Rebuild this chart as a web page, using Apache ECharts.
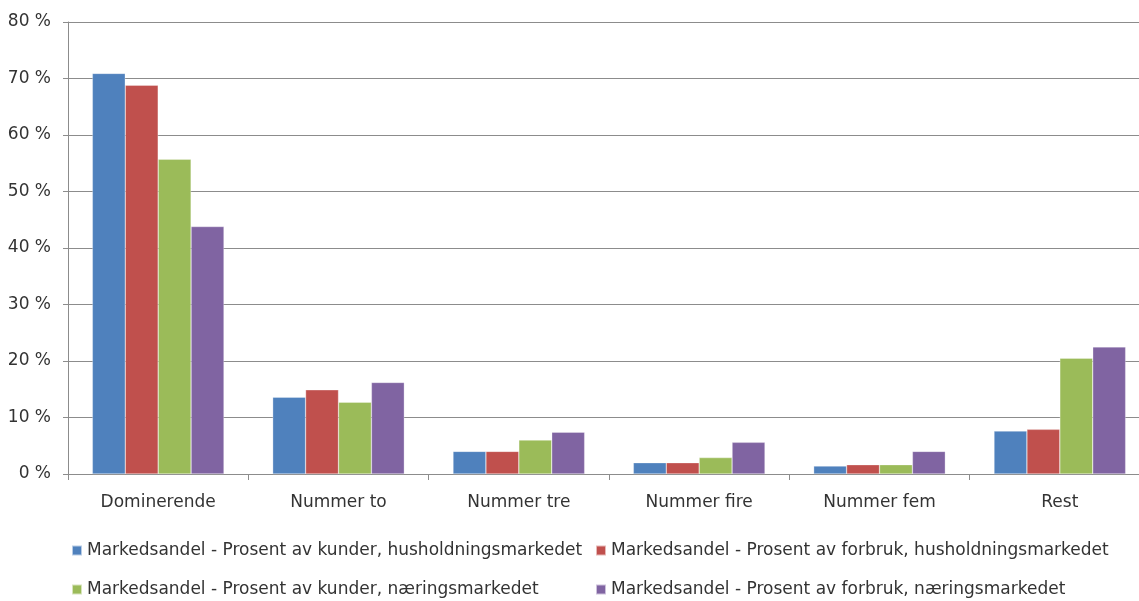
<!DOCTYPE html>
<html>
<head>
<meta charset="utf-8">
<script src="https://cdn.jsdelivr.net/npm/echarts@6/dist/echarts.min.js"></script>
<style>
  html, body { margin: 0; padding: 0; background: #fff; }
  #chart { width: 1139px; height: 601px; }
</style>
</head>
<body>
<div id="chart"></div>
<script>
const categories = ['Dominerende', 'Nummer to', 'Nummer tre', 'Nummer fire', 'Nummer fem', 'Rest']

const seriesNames = [
  'Markedsandel - Prosent av kunder, husholdningsmarkedet',
  'Markedsandel - Prosent av forbruk, husholdningsmarkedet',
  'Markedsandel - Prosent av kunder, næringsmarkedet',
  'Markedsandel - Prosent av forbruk, næringsmarkedet'
]

const kunderHush = [70.9, 13.6, 4.0, 2.0, 1.4, 7.6]
const forbrukHush = [68.8, 14.9, 4.0, 2.0, 1.65, 7.9]
const kunderNaering = [55.7, 12.7, 6.0, 2.9, 1.65, 20.5]
const forbrukNaering = [43.8, 16.2, 7.4, 5.6, 4.0, 22.5]

const colors = ['#4F81BD', '#C0504D', '#9BBB59', '#8064A2']
const font = 'DejaVu Sans'
const textColor = '#333'

const chart = echarts.init(document.getElementById('chart'))

const makeSeries = (name, data, color) => ({
  name: name,
  type: 'bar',
  data: data,
  barGap: '0%',
  barCategoryGap: '27%',
  itemStyle: { color: color, borderColor: 'rgba(255,255,255,0.6)', borderWidth: 0.5 }
})

const legendText = { fontFamily: font, fontSize: 17, color: textColor }

chart.setOption({
  backgroundColor: '#fff',
  animation: false,
  color: colors,
  grid: { left: 68, top: 22, width: 1082, bottom: 127, outerBoundsMode: 'none' },
  legend: [
    {
      orient: 'vertical', left: 71, top: 542, height: 70, padding: 0, itemGap: 22,
      itemWidth: 10, itemHeight: 10, icon: 'rect',
      textStyle: legendText,
      data: [seriesNames[0], seriesNames[2]]
    },
    {
      orient: 'vertical', left: 595, top: 542, height: 70, padding: 0, itemGap: 22,
      itemWidth: 10, itemHeight: 10, icon: 'rect',
      textStyle: legendText,
      data: [seriesNames[1], seriesNames[3]]
    }
  ],
  xAxis: {
    type: 'category',
    data: categories,
    axisLine: { lineStyle: { color: '#8c8c8c' } },
    axisTick: { show: true, length: 6, lineStyle: { color: '#8c8c8c' } },
    axisLabel: { fontFamily: font, fontSize: 17, color: textColor, margin: 20 }
  },
  yAxis: {
    type: 'value',
    min: 0,
    max: 80,
    interval: 10,
    axisLine: { show: true, lineStyle: { color: '#8c8c8c' } },
    axisTick: { show: true, inside: false, length: 5, lineStyle: { color: '#8c8c8c' } },
    splitLine: { lineStyle: { color: '#8c8c8c' } },
    axisLabel: { formatter: '{value} %', fontFamily: font, fontSize: 17, color: textColor, margin: 17 }
  },
  series: [
    makeSeries(seriesNames[0], kunderHush, colors[0]),
    makeSeries(seriesNames[1], forbrukHush, colors[1]),
    makeSeries(seriesNames[2], kunderNaering, colors[2]),
    makeSeries(seriesNames[3], forbrukNaering, colors[3])
  ]
})
</script>
</body>
</html>
